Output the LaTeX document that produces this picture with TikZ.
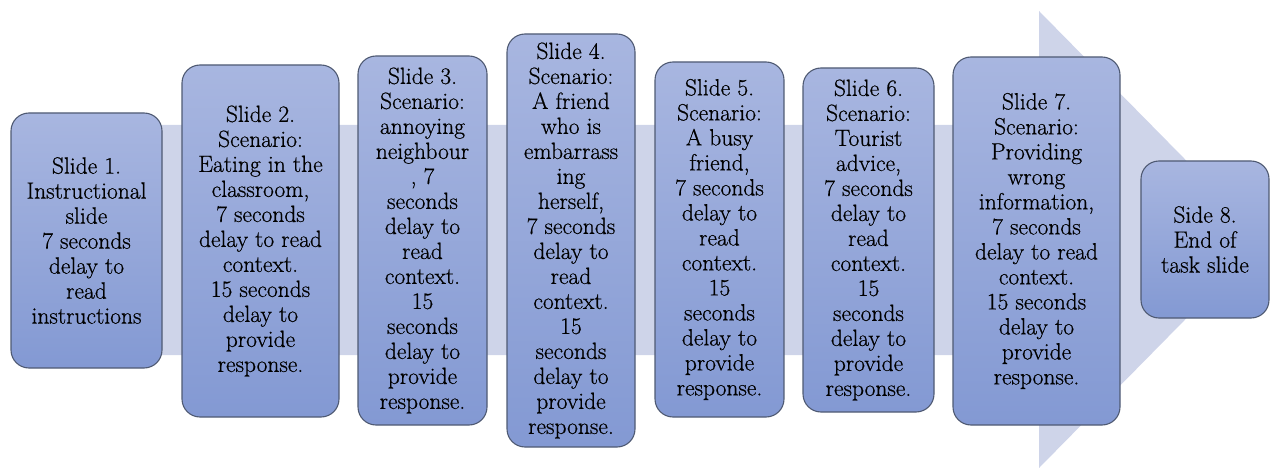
\documentclass[tikz,border=0pt]{standalone}
\usepackage{fontspec}
\setmainfont{Latin Modern Roman}[UprightFeatures={FakeBold=0.6}]
\definecolor{bandfill}{HTML}{CED4E9}
\definecolor{boxtop}{HTML}{A8B6E0}
\definecolor{boxbot}{HTML}{8399D3}
\definecolor{boxline}{HTML}{4F5A73}
\begin{document}
\begin{tikzpicture}[x=1pt,y=-1pt,
  slidebox/.style={draw=boxline, line width=1.1pt, rounded corners=18pt,
    top color=boxtop, bottom color=boxbot, align=center,
    font=\rmfamily\fontsize{23.5}{25}\selectfont, inner sep=0pt, text=black}]
\useasboundingbox (0,0) rectangle (1275,468);
% background arrow
\fill[bandfill] (15,125) -- (1039,125) -- (1039,11) -- (1264,239.5)
  -- (1039,468) -- (1039,355) -- (15,355) -- cycle;
% slides
\node[slidebox, minimum width=151pt, minimum height=255pt] (s1) at (86.5,240.5)
  {Slide 1.\\Instructional\\slide\\7 seconds\\delay to\\read\\instructions};
\node[slidebox, minimum width=157pt, minimum height=352pt] (s2) at (260.5,241)
  {Slide 2.\\Scenario:\\Eating in the\\classroom,\\7 seconds\\delay to read\\context.\\15 seconds\\delay to\\provide\\response.};
\node[slidebox, minimum width=129pt, minimum height=369pt] (s3) at (422.5,240.5)
  {Slide 3.\\Scenario:\\annoying\\neighbour\\, 7\\seconds\\delay to\\read\\context.\\15\\seconds\\delay to\\provide\\response.};
\node[slidebox, minimum width=128pt, minimum height=413pt] (s4) at (571,240.5)
  {Slide 4.\\Scenario:\\A friend\\who is\\embarrass\\ing\\herself,\\7 seconds\\delay to\\read\\context.\\15\\seconds\\delay to\\provide\\response.};
\node[slidebox, minimum width=129pt, minimum height=355pt] (s5) at (719.5,239.5)
  {Slide 5.\\Scenario:\\A busy\\friend,\\7 seconds\\delay to\\read\\context.\\15\\seconds\\delay to\\provide\\response.};
\node[slidebox, minimum width=131pt, minimum height=344pt] (s6) at (868.5,240)
  {Slide 6.\\Scenario:\\Tourist\\advice,\\7 seconds\\delay to\\read\\context.\\15\\seconds\\delay to\\provide\\response.};
\node[slidebox, minimum width=167pt, minimum height=368pt] (s7) at (1036.5,241)
  {Slide 7.\\Scenario:\\Providing\\wrong\\information,\\7 seconds\\delay to read\\context.\\15 seconds\\delay to\\provide\\response.};
\node[slidebox, minimum width=128pt, minimum height=157pt] (s8) at (1205,239.5)
  {Side 8.\\End of\\task slide};
\end{tikzpicture}
\end{document}
